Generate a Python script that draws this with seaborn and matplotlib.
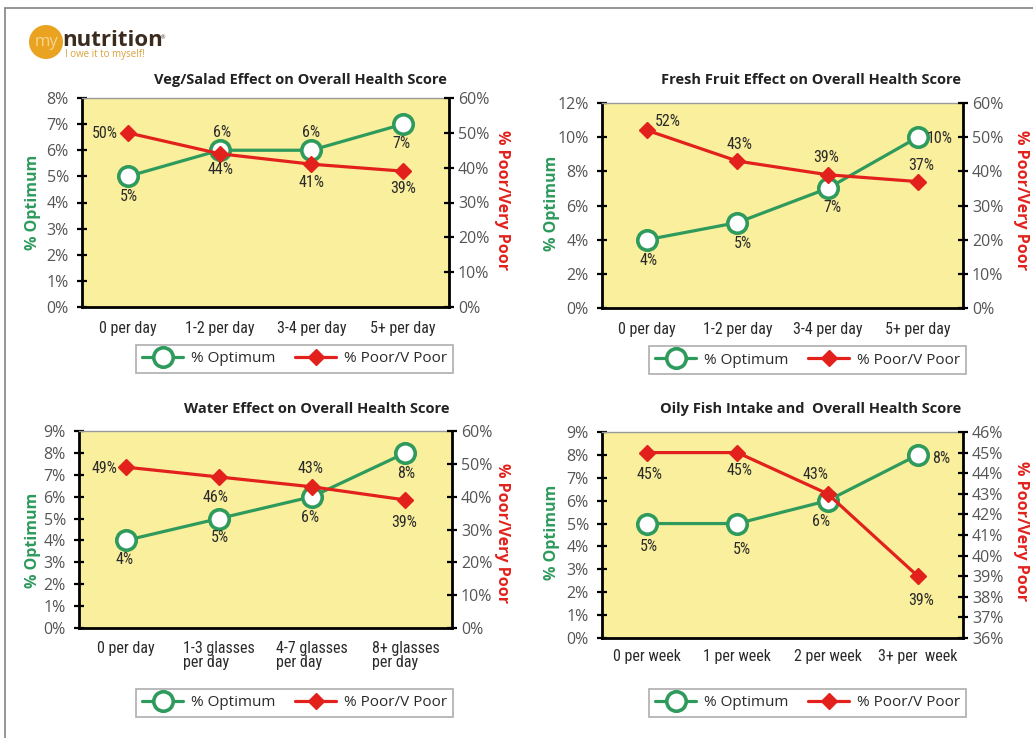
import numpy as np
import pandas as pd
import matplotlib
matplotlib.use("Agg")
import matplotlib.pyplot as plt
import seaborn as sns
from matplotlib import font_manager as fm
from matplotlib.lines import Line2D
from matplotlib.patches import Circle

# ---------------- data ----------------
veg_cats = ["0 per day", "1-2 per day", "3-4 per day", "5+ per day"]
veg_optimum = [5, 6, 6, 7]
veg_poor = [50, 44, 41, 39]

fruit_cats = ["0 per day", "1-2 per day", "3-4 per day", "5+ per day"]
fruit_optimum = [4, 5, 7, 10]
fruit_poor = [52, 43, 39, 37]

water_cats = ["0 per day", "1-3 glasses\nper day", "4-7 glasses\nper day", "8+ glasses\nper day"]
water_optimum = [4, 5, 6, 8]
water_poor = [49, 46, 43, 39]

fish_cats = ["0 per week", "1 per week", "2 per week", "3+ per  week"]
fish_optimum = [5, 5, 6, 8]
fish_poor = [45, 45, 43, 39]

veg_title = "Veg/Salad Effect on Overall Health Score"
fruit_title = "Fresh Fruit Effect on Overall Health Score"
water_title = "Water Effect on Overall Health Score"
fish_title = "Oily Fish Intake and  Overall Health Score"

veg_left_ticks = list(range(0, 9, 1))
veg_right_ticks = list(range(0, 61, 10))
fruit_left_ticks = list(range(0, 13, 2))
fruit_right_ticks = list(range(0, 61, 10))
water_left_ticks = list(range(0, 10, 1))
water_right_ticks = list(range(0, 61, 10))
fish_left_ticks = list(range(0, 10, 1))
fish_right_ticks = list(range(36, 47, 1))

left_label = "% Optimum"
right_label = "% Poor/Very Poor"
legend_labels = ["% Optimum", "% Poor/V Poor"]

# ---------------- style ----------------
W, H = 1033, 738
GREEN = "#2E9A5C"
RED = "#E2211C"
PANEL = "#F9EF9D"
TXT = "#2a2a2a"
TICK_TXT = "#555555"

sns.set_theme(style="white")
plt.rcParams["font.family"] = ["Open Sans", "DejaVu Sans"]

_names = {f.name for f in fm.fontManager.ttflist}
NARROW = next((n for n in ["Liberation Sans Narrow", "Roboto Condensed",
                           "Open Sans Condensed", "DejaVu Sans"] if n in _names),
              "DejaVu Sans")


def fx(x):
    return x / W


def fy(y):
    return 1 - y / H


fig = plt.figure(figsize=(W / 100, H / 100), dpi=100)
fig.patch.set_facecolor("white")

# outer frame
fig.add_artist(Line2D([fx(5), fx(W)], [fy(8), fy(8)], color="#8c8c8c", lw=1.3))
fig.add_artist(Line2D([fx(5), fx(5)], [fy(8), fy(H)], color="#8c8c8c", lw=1.3))

# logo
lax = fig.add_axes([fx(26), fy(64), fx(150), 42 / H])
lax.set_xlim(0, 150)
lax.set_ylim(0, 42)
lax.set_aspect("equal")
lax.axis("off")
lax.add_patch(Circle((20, 22), 17, color="#E9A321", ec="none"))
lax.text(20, 22, "my", ha="center", va="center", fontsize=12, color="#F7D590")
lax.text(36, 24, "nutrition", ha="left", va="center", fontsize=16,
         fontweight="bold", color="#3b2a1e")
lax.text(135, 26, "\u00ae", ha="left", va="center", fontsize=4, color="#3b2a1e")
lax.text(39, 9, "I owe it to myself!", ha="left", va="center", fontsize=7,
         color="#D9A13A")


def draw_panel(box, cats, opt, poor, title, lticks, rticks, opt_off, poor_off,
               leg_center, title_y, lab_x, lab_y, rlab_x, rlab_y, xpad):
    l, t, r, b = box
    ax = fig.add_axes([fx(l), fy(b), (r - l) / W, (b - t) / H])
    ax.set_facecolor(PANEL)
    pos = np.arange(len(cats))
    df = pd.DataFrame({"pos": pos, "opt": opt, "poor": poor})

    sns.lineplot(data=df, x="pos", y="opt", ax=ax, color=GREEN, lw=2.3,
                 marker="o", markersize=14, markerfacecolor="white",
                 markeredgecolor=GREEN, markeredgewidth=2.6, sort=False,
                 clip_on=False, zorder=3)
    ax.set_ylim(lticks[0], lticks[-1])
    ax.set_yticks(lticks)
    ax.set_yticklabels([f"{v}%" for v in lticks])
    ax.set_xlim(-0.5, len(cats) - 0.5)
    ax.set_xticks(pos)
    ax.set_xticklabels(cats, fontsize=11.5, family=NARROW, color=TXT,
                       linespacing=1.0, multialignment="left")
    ax.set_xticks(np.arange(len(cats) + 1) - 0.5, minor=True)
    ax.tick_params(axis="x", which="major", length=0, pad=xpad)
    ax.tick_params(axis="x", which="minor", direction="inout", length=8,
                   width=1.6, color="black")
    ax.tick_params(axis="y", direction="inout", length=7, width=1.6,
                   color="black", labelsize=11.5, labelcolor=TICK_TXT, pad=6,
                   left=True)
    ax.set_xlabel("")
    ax.set_ylabel("")
    for s in ["left", "bottom"]:
        ax.spines[s].set_color("black")
        ax.spines[s].set_linewidth(2)
    ax.spines["right"].set_visible(False)
    ax.spines["top"].set_color("#9a9a9a")
    ax.spines["top"].set_linewidth(1)

    ax2 = ax.twinx()
    ax2.patch.set_visible(False)
    sns.lineplot(data=df, x="pos", y="poor", ax=ax2, color=RED, lw=2.3,
                 marker="D", markersize=8, markerfacecolor=RED,
                 markeredgecolor=RED, markeredgewidth=1, sort=False,
                 clip_on=False, zorder=4)
    ax2.set_ylim(rticks[0], rticks[-1])
    ax2.set_yticks(rticks)
    ax2.set_yticklabels([f"{v}%" for v in rticks])
    ax2.set_ylabel("")
    ax2.tick_params(axis="y", direction="inout", length=7, width=1.6,
                    color="black", labelsize=11.5, labelcolor=TICK_TXT, pad=3,
                    right=True)
    for s in ["left", "top", "bottom"]:
        ax2.spines[s].set_visible(False)
    ax2.spines["right"].set_color("black")
    ax2.spines["right"].set_linewidth(2)

    for i, v in enumerate(opt):
        ax.annotate(f"{v}%", xy=(pos[i], v), xytext=opt_off[i],
                    textcoords="offset pixels", ha="center", va="center",
                    fontsize=11.5, family=NARROW, color=TXT, zorder=5)
    for i, v in enumerate(poor):
        ax2.annotate(f"{v}%", xy=(pos[i], v), xytext=poor_off[i],
                     textcoords="offset pixels", ha="center", va="center",
                     fontsize=11.5, family=NARROW, color=TXT, zorder=5)

    fig.text(fx(r - 2), fy(title_y), title, ha="right", va="center",
             fontsize=10.5, fontweight="bold", color="#222222")
    fig.text(fx(lab_x), fy(lab_y), left_label, rotation=90, ha="center",
             va="center", fontsize=11.5, fontweight="bold", color=GREEN)
    fig.text(fx(rlab_x), fy(rlab_y), right_label, rotation=-90, ha="center",
             va="center", fontsize=11.5, fontweight="bold", color=RED)

    handles = [
        Line2D([], [], color=GREEN, lw=2.3, marker="o", markersize=14,
               markerfacecolor="white", markeredgecolor=GREEN,
               markeredgewidth=2.6),
        Line2D([], [], color=RED, lw=2.3, marker="D", markersize=8,
               markerfacecolor=RED, markeredgecolor=RED),
    ]
    leg = fig.legend(handles, legend_labels, loc="center",
                     bbox_to_anchor=(fx(leg_center[0]), fy(leg_center[1])),
                     ncol=2, frameon=True, fancybox=False, fontsize=11,
                     handlelength=2.7, handletextpad=0.5, columnspacing=1.3,
                     borderpad=0.4, borderaxespad=0)
    leg.get_frame().set_edgecolor("#9a9a9a")
    leg.get_frame().set_linewidth(1.2)
    for txt in leg.get_texts():
        txt.set_color(TXT)
    return ax, ax2


draw_panel((82, 98, 449, 307), veg_cats, veg_optimum, veg_poor, veg_title,
           veg_left_ticks, veg_right_ticks,
           opt_off=[(1, -20), (2, 18), (0, 18), (-2, -19)],
           poor_off=[(-23, -1), (1, -16), (0, -18), (0, -17)],
           leg_center=(294.5, 359), title_y=80, lab_x=33, lab_y=202,
           rlab_x=502, rlab_y=200, xpad=10)

draw_panel((602, 103, 963, 308), fruit_cats, fruit_optimum, fruit_poor,
           fruit_title, fruit_left_ticks, fruit_right_ticks,
           opt_off=[(2, -21), (6, -21), (5, -19), (22, -1)],
           poor_off=[(21, 9), (2, 17), (-1, 17), (3, 16)],
           leg_center=(807.5, 360), title_y=80, lab_x=552, lab_y=203,
           rlab_x=1021, rlab_y=200, xpad=10)

draw_panel((79, 431, 452, 628), water_cats, water_optimum, water_poor,
           water_title, water_left_ticks, water_right_ticks,
           opt_off=[(-1, -19), (1, -19), (-2, -21), (1, -21)],
           poor_off=[(-21, -1), (-3, -21), (-2, 18), (-1, -23)],
           leg_center=(294.5, 703), title_y=409, lab_x=33, lab_y=540,
           rlab_x=502, rlab_y=533, xpad=9)

draw_panel((602, 432, 963, 638), fish_cats, fish_optimum, fish_poor,
           fish_title, fish_left_ticks, fish_right_ticks,
           opt_off=[(2, -23), (5, -26), (-7, -21), (23, -4)],
           poor_off=[(2, -22), (2, -18), (-12, 19), (3, -24)],
           leg_center=(807.5, 703), title_y=409, lab_x=552, lab_y=532,
           rlab_x=1021, rlab_y=531, xpad=8)

fig.savefig("out.png", dpi=100, facecolor="white")
